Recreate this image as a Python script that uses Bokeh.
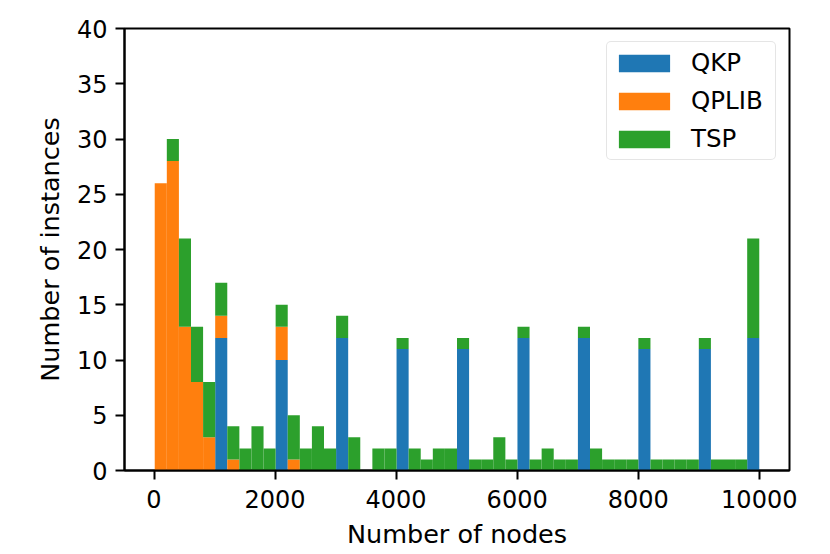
from bokeh.plotting import figure
from bokeh.models import ColumnDataSource, Range1d, FixedTicker, Legend
from bokeh.embed import file_html
from bokeh.resources import INLINE

# ---- data (histogram counts per bin, 50 bins from node_min to node_max) ----
node_min = 12
node_max = 10000
n_bins = 50

qkp = [0, 0, 0, 0, 0, 12, 0, 0, 0, 0,
       10, 0, 0, 0, 0, 12, 0, 0, 0, 0,
       11, 0, 0, 0, 0, 11, 0, 0, 0, 0,
       12, 0, 0, 0, 0, 12, 0, 0, 0, 0,
       11, 0, 0, 0, 0, 11, 0, 0, 0, 12]
qplib = [26, 28, 13, 8, 3, 2, 1, 0, 0, 0,
         3, 1, 0, 0, 0, 0, 0, 0, 0, 0,
         0, 0, 0, 0, 0, 0, 0, 0, 0, 0,
         0, 0, 0, 0, 0, 0, 0, 0, 0, 0,
         0, 0, 0, 0, 0, 0, 0, 0, 0, 0]
tsp = [0, 2, 8, 5, 5, 3, 3, 2, 4, 2,
       2, 4, 2, 4, 2, 2, 3, 0, 2, 2,
       1, 2, 1, 2, 2, 1, 1, 1, 3, 1,
       1, 1, 2, 1, 1, 1, 2, 1, 1, 1,
       1, 1, 1, 1, 1, 1, 1, 1, 1, 9]

series = ["QKP", "QPLIB", "TSP"]
colors = ["#1f77b4", "#ff7f0e", "#2ca02c"]
x_ticks = [0, 2000, 4000, 6000, 8000, 10000]
y_ticks = [0, 5, 10, 15, 20, 25, 30, 35, 40]

bin_w = (node_max - node_min) / n_bins
centers = [node_min + bin_w * (i + 0.5) for i in range(n_bins)]

source = ColumnDataSource(dict(x=centers, QKP=qkp, QPLIB=qplib, TSP=tsp))

FONT = "DejaVu Sans"
FS = "24px"
FS_LABEL = "25.5px"

pad = (node_max - node_min) * 0.05
p = figure(width=822, height=551, output_backend="svg", toolbar_location=None,
           x_range=Range1d(node_min - pad, node_max + pad), y_range=Range1d(0, 40),
           min_border_left=124, min_border_right=33, min_border_top=28, min_border_bottom=81)

renderers = p.vbar_stack(series, x="x", width=bin_w, source=source, color=colors,
                         line_color=None)

p.xgrid.visible = False
p.ygrid.visible = False
p.outline_line_color = "black"
p.outline_line_width = 2
p.background_fill_color = "white"
p.border_fill_color = "white"

for ax in (p.xaxis[0], p.yaxis[0]):
    ax.axis_line_width = 2
    ax.axis_line_color = "black"
    ax.major_tick_line_width = 2
    ax.major_tick_out = 9
    ax.major_tick_in = 0
    ax.minor_tick_line_color = None
    ax.major_label_text_font = FONT
    ax.major_label_text_font_size = FS
    ax.major_label_text_color = "black"
    ax.axis_label_text_font = FONT
    ax.axis_label_text_font_size = FS_LABEL
    ax.axis_label_text_font_style = "normal"
    ax.axis_label_text_color = "black"

p.xaxis[0].ticker = FixedTicker(ticks=x_ticks)
p.yaxis[0].ticker = FixedTicker(ticks=y_ticks)
p.xaxis[0].axis_label = "Number of nodes"
p.yaxis[0].axis_label = "Number of instances"
p.xaxis[0].major_label_standoff = 10
p.yaxis[0].major_label_standoff = 8
p.xaxis[0].axis_label_standoff = 8
p.yaxis[0].axis_label_standoff = 9

legend = Legend(items=[(s, [r]) for s, r in zip(series, renderers)], location="top_right")
legend.label_text_font = FONT
legend.label_text_font_size = "24.5px"
legend.label_text_color = "black"
legend.glyph_width = 64
legend.glyph_height = 22
legend.label_height = 31
legend.label_width = 79
legend.label_standoff = 15
legend.spacing = 7
legend.padding = 5
legend.margin = 13
legend.border_line_color = "#cccccc"
legend.border_line_width = 1.5
legend.background_fill_alpha = 0.8
if "border_radius" in legend.properties():
    legend.border_radius = 5
p.add_layout(legend)

open("out.html", "w").write(file_html(p, INLINE))
